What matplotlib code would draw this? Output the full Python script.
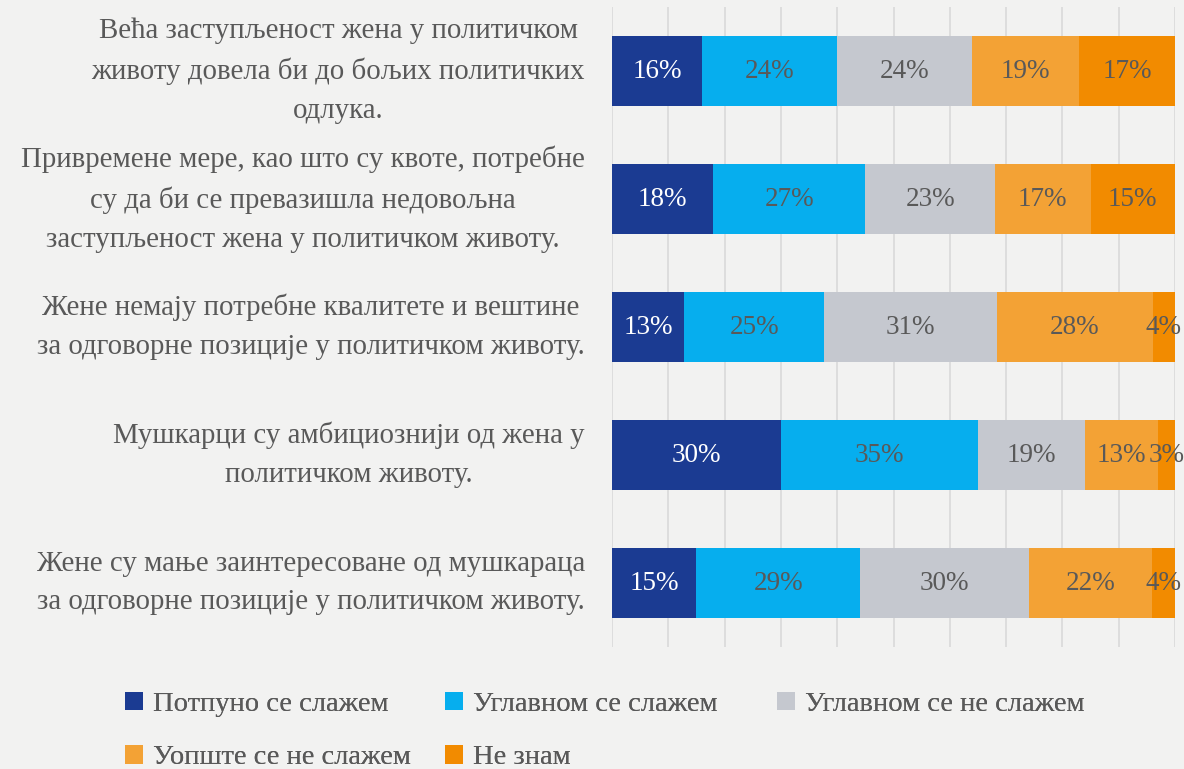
import matplotlib
matplotlib.use("Agg")
import matplotlib.pyplot as plt
from matplotlib.patches import Patch
import numpy as np

plt.rcParams['font.family'] = ['Liberation Serif', 'DejaVu Serif']

categories = [
    "Већа заступљеност жена у политичком\nживоту довела би до бољих политичких\nодлука.",
    "Привремене мере, као што су квоте, потребне\nсу да би се превазишла недовољна\nзаступљеност жена у политичком животу.",
    "Жене немају потребне квалитете и вештине\nза одговорне позиције у политичком животу.",
    "Мушкарци су амбициознији од жена у\nполитичком животу.",
    "Жене су мање заинтересоване од мушкараца\nза одговорне позиције у политичком животу.",
]
series_names = ["Потпуно се слажем", "Углавном се слажем", "Углавном се не слажем",
                "Уопште се не слажем", "Не знам"]
potpuno = [16, 18, 13, 30, 15]
uglavnom_da = [24, 27, 25, 35, 29]
uglavnom_ne = [24, 23, 31, 19, 30]
uopste_ne = [19, 17, 28, 13, 22]
ne_znam = [17, 15, 4, 3, 4]

colors = ["#1b3b92", "#06aeee", "#c5c8cf", "#f3a235", "#f28b00"]
text_colors = ["white", "#595959", "#595959", "#595959", "#595959"]
bg = "#f2f2f1"
W, H = 1184, 769

data = np.array([potpuno, uglavnom_da, uglavnom_ne, uopste_ne, ne_znam], dtype=float)
totals = data.sum(axis=0)
widths = data / totals * 100

fig = plt.figure(figsize=(W/100, H/100), dpi=100, facecolor=bg)
ax = fig.add_axes([612/W, 1-647/H, (1175-612)/W, 640/H], facecolor=bg)

y = np.arange(len(categories))
left = np.zeros(len(categories))
for i in range(len(series_names)):
    ax.barh(y, widths[i], left=left, height=0.547, color=colors[i],
            label=series_names[i], zorder=3)
    for j in range(len(categories)):
        ax.text(left[j] + widths[i][j] / 2, y[j], f"{int(data[i][j])}%",
                ha='center', va='center', color=text_colors[i], fontsize=19.5, zorder=4)
    left += widths[i]

ax.set_xlim(0, 100)
ax.set_ylim(len(categories) - 0.5, -0.5)
ax.set_xticks(np.arange(0, 101, 10))
ax.xaxis.grid(True, color="#d9d9d9", linewidth=1.2, zorder=0)
ax.tick_params(axis='both', length=0, labelbottom=False, labelleft=False)
for s in ax.spines.values():
    s.set_visible(False)

for j, cat in enumerate(categories):
    ax.annotate(cat, xy=(0, y[j]), xycoords=('axes fraction', 'data'),
                xytext=(-27, 0), textcoords='offset pixels',
                ha='right', va='center', multialignment='center',
                fontsize=20.8, color="#595959", linespacing=1.63)

handles = [Patch(facecolor=c) for c in colors]
columns = [([0, 3], 105), ([1, 4], 425), ([2], 757)]
for idx, xpix in columns:
    leg = fig.legend([handles[k] for k in idx], [series_names[k] for k in idx],
                     ncol=1, loc='upper left', bbox_to_anchor=(xpix/W, 1-672/H),
                     frameon=False, fontsize=20.5, labelcolor="#595959",
                     handlelength=0.62, handleheight=0.62, handletextpad=0.35,
                     labelspacing=0.98, borderpad=0.2)
    fig.add_artist(leg)

fig.savefig("out.png", dpi=100, facecolor=bg)
